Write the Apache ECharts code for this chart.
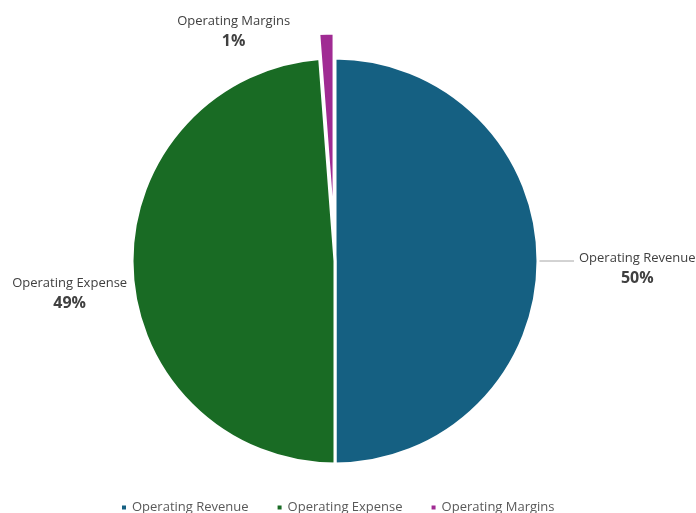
<!DOCTYPE html>
<html><head><meta charset="utf-8">
<script src="https://cdn.jsdelivr.net/npm/echarts@6/dist/echarts.min.js"></script>
<style>html,body{margin:0;padding:0;background:#fff}#c{width:696px;height:513px}</style>
</head><body><div id="c"></div>
<script>
const categories = ['Operating Revenue', 'Operating Expense', 'Operating Margins'];
const values = [50, 48.8, 1.2];
const colors = ['#156082', '#196B24', '#A02B93'];

const FONT = "'Open Sans', sans-serif";
const chart = echarts.init(document.getElementById('c'), null, {renderer: 'canvas'});
const data = categories.map((name, i) => {
  const d = {name: name, value: values[i], itemStyle: {color: colors[i]}};
  if (i === 2) d.selected = true;
  if (i === 0) d.label = {padding: [16, 0, 0, 0]};
  if (i === 1) d.labelLine = {show: false, length: 0, length2: 0};
  if (i === 2) d.labelLine = {show: false};
  return d;
});
chart.setOption({
  animation: false,
  backgroundColor: '#fff',
  legend: {
    top: 501,
    left: 120,
    padding: 0,
    icon: 'rect',
    itemWidth: 6,
    itemHeight: 6,
    itemGap: 27,
    selectedMode: false,
    textStyle: {color: '#595959', fontSize: 13, fontFamily: FONT},
    data: categories
  },
  series: [{
    type: 'pie',
    center: [335, 261],
    radius: 203,
    startAngle: 90,
    clockwise: true,
    selectedMode: 'single',
    selectedOffset: 25,
    avoidLabelOverlap: false,
    emphasis: {disabled: true},
    itemStyle: {borderColor: '#fff', borderWidth: 3},
    label: {
      show: true,
      position: 'outside',
      fontFamily: FONT,
      formatter: '{n|{b}}\n{p|{d}%}',
      align: 'center',
      rich: {
        n: {fontSize: 13, color: '#404040', fontFamily: FONT, lineHeight: 19, align: 'center'},
        p: {fontSize: 16, fontWeight: 'bold', color: '#404040', fontFamily: FONT, lineHeight: 21, align: 'center'}
      }
    },
    labelLayout: function (params) {
      if (params.dataIndex === 1) return {dy: 25};
      if (params.dataIndex === 2) return {dx: -3, dy: 7};
      return {};
    },
    labelLine: {show: true, length: 8, length2: 28, lineStyle: {color: '#A6A6A6', width: 1}},
    percentPrecision: 0,
    data: data
  }]
});
</script></body></html>
